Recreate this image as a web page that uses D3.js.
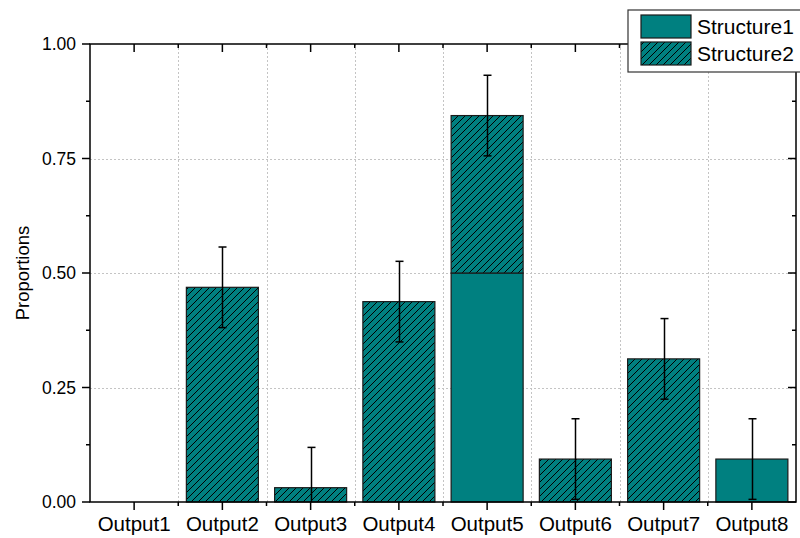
<!DOCTYPE html>
<html><head><meta charset="utf-8">
<script src="https://d3js.org/d3.v7.min.js"></script>
<style>body{margin:0;background:#fff}svg{display:block}</style>
</head><body>
<svg id="c" width="800" height="538"></svg>
<script>
const categories = ["Output1","Output2","Output3","Output4","Output5","Output6","Output7","Output8"];
const structure1 = [0, 0, 0, 0, 0.5, 0, 0, 0.09375];
const structure2 = [0, 0.46875, 0.03125, 0.4375, 0.34375, 0.09375, 0.3125, 0];
const errors = [0, 0.088, 0.088, 0.088, 0.088, 0.088, 0.088, 0.088];
const yTicks = [0, 0.25, 0.5, 0.75, 1.0];
const seriesNames = ["Structure1", "Structure2"];

const svg = d3.select("#c");
const L = 90, R = 796, T = 44, B = 502;
const teal = "#008080";
const font = "'Liberation Sans', Arial, sans-serif";
const x = d3.scaleBand().domain(categories).range([L, R]).padding(0);
const y = d3.scaleLinear().domain([0, 1]).range([B, T]);
const barW = x.bandwidth() * 0.816;

const defs = svg.append("defs");
const pat = defs.append("pattern").attr("id", "hatch").attr("patternUnits", "userSpaceOnUse")
  .attr("width", 7).attr("height", 7);
pat.append("rect").attr("width", 7).attr("height", 7).attr("fill", teal);
pat.append("path").attr("d", "M0,7 L7,0 M-1,1 L1,-1 M6,8 L8,6")
  .attr("stroke", "#000").attr("stroke-width", 1);

// grid
const grid = svg.append("g").attr("stroke", "#c4c4c4").attr("stroke-width", 1).attr("stroke-dasharray", "2,2");
yTicks.filter(d => d > 0 && d < 1).forEach(v => {
  grid.append("line").attr("x1", L).attr("x2", R).attr("y1", Math.round(y(v)) + 0.5).attr("y2", Math.round(y(v)) + 0.5);
});
categories.slice(1).forEach(c => {
  const xx = Math.round(x(c)) + 0.5;
  grid.append("line").attr("x1", xx).attr("x2", xx).attr("y1", T).attr("y2", B);
});

// bars
const bars = svg.append("g");
categories.forEach((c, i) => {
  const cx = x(c) + x.bandwidth() / 2;
  const s1 = structure1[i], s2 = structure2[i];
  if (s1 > 0) {
    bars.append("rect").attr("x", cx - barW / 2).attr("width", barW)
      .attr("y", y(s1)).attr("height", y(0) - y(s1))
      .attr("fill", teal).attr("stroke", "#1a1a1a").attr("stroke-width", 1.2);
  }
  if (s2 > 0) {
    bars.append("rect").attr("x", cx - barW / 2).attr("width", barW)
      .attr("y", y(s1 + s2)).attr("height", y(s1) - y(s1 + s2))
      .attr("fill", "url(#hatch)").attr("stroke", "#1a1a1a").attr("stroke-width", 1.2);
  }
});

// error bars
const eg = svg.append("g").attr("stroke", "#000").attr("stroke-width", 1.5);
categories.forEach((c, i) => {
  if (errors[i] === 0) return;
  const cx = Math.round(x(c) + x.bandwidth() / 2) + 0.5;
  const tot = structure1[i] + structure2[i];
  const hi = tot + errors[i], lo = Math.max(0, tot - errors[i]);
  eg.append("line").attr("x1", cx).attr("x2", cx).attr("y1", y(hi)).attr("y2", y(lo));
  eg.append("line").attr("x1", cx - 4).attr("x2", cx + 4).attr("y1", y(hi)).attr("y2", y(hi));
  if (tot - errors[i] > 0) eg.append("line").attr("x1", cx - 4).attr("x2", cx + 4).attr("y1", y(lo)).attr("y2", y(lo));
});

// axes
const yMinor = d3.range(0.125, 1, 0.25);
const xMinor = categories.slice(1).map(c => x(c));
const ax = svg.append("g").attr("stroke", "#000").attr("stroke-width", 1.5).attr("fill", "none");
ax.append("rect").attr("x", L).attr("y", T).attr("width", R - L).attr("height", B - T);
yTicks.forEach(v => ax.append("line").attr("x1", L - 8).attr("x2", L).attr("y1", y(v)).attr("y2", y(v)));
yMinor.forEach(v => ax.append("line").attr("x1", L - 4).attr("x2", L).attr("y1", y(v)).attr("y2", y(v)));
yTicks.forEach(v => ax.append("line").attr("x1", R - 8).attr("x2", R).attr("y1", y(v)).attr("y2", y(v)));
yMinor.forEach(v => ax.append("line").attr("x1", R - 4).attr("x2", R).attr("y1", y(v)).attr("y2", y(v)));
categories.forEach(c => {
  const cx = x(c) + x.bandwidth() / 2;
  ax.append("line").attr("x1", cx).attr("x2", cx).attr("y1", B).attr("y2", B + 8);
  ax.append("line").attr("x1", cx).attr("x2", cx).attr("y1", T).attr("y2", T + 8);
});
xMinor.forEach(xx => {
  ax.append("line").attr("x1", xx).attr("x2", xx).attr("y1", B).attr("y2", B + 4);
  ax.append("line").attr("x1", xx).attr("x2", xx).attr("y1", T).attr("y2", T + 4);
});

// labels
const txt = svg.append("g").attr("font-family", font).attr("fill", "#000");
yTicks.forEach(v => txt.append("text").attr("x", 76).attr("y", y(v) + 6)
  .attr("text-anchor", "end").attr("font-size", 17.5).text(d3.format(".2f")(v)));
categories.forEach(c => txt.append("text").attr("x", x(c) + x.bandwidth() / 2).attr("y", 531)
  .attr("text-anchor", "middle").attr("font-size", 20.5).text(c));
txt.append("text").attr("transform", `translate(29,${(T + B) / 2}) rotate(-90)`)
  .attr("text-anchor", "middle").attr("font-size", 18.5).text("Proportions");

// legend
const lg = svg.append("g");
lg.append("rect").attr("x", 628).attr("y", 10).attr("width", 200).attr("height", 62)
  .attr("fill", "#fff").attr("stroke", "#333").attr("stroke-width", 1.2);
seriesNames.forEach((n, i) => {
  lg.append("rect").attr("x", 641).attr("y", 15 + i * 27).attr("width", 50).attr("height", 23)
    .attr("fill", i === 0 ? teal : "url(#hatch)").attr("stroke", "#1a1a1a").attr("stroke-width", 1.2);
  lg.append("text").attr("x", 697).attr("y", 34 + i * 27).attr("font-family", font)
    .attr("font-size", 21).text(n);
});
</script>
</body></html>
